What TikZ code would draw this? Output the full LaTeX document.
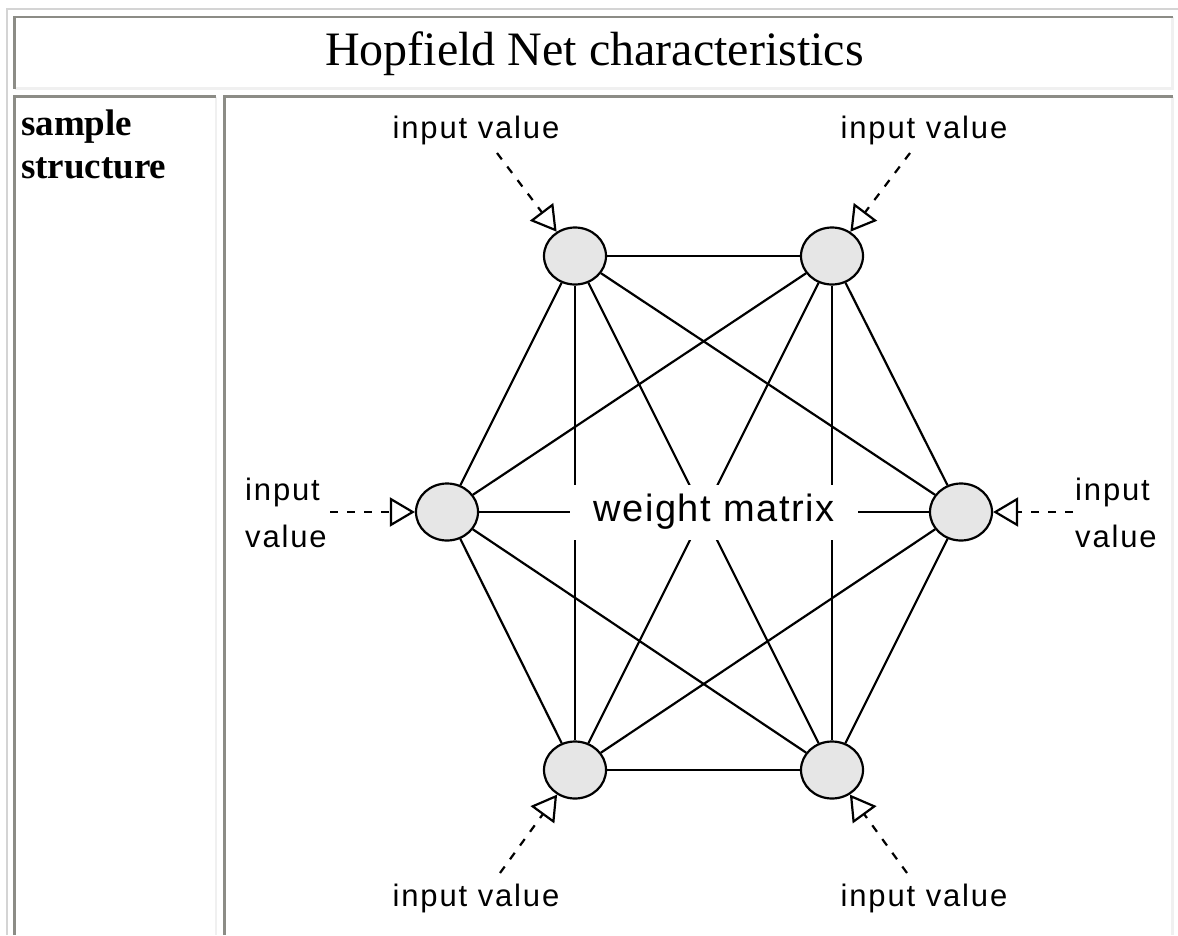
\documentclass[tikz,border=0pt]{standalone}
\usepackage{fontspec}
\setmainfont{Liberation Serif}
\newfontfamily\diagfont[LetterSpace=6]{Liberation Sans}
\newfontfamily\wmfont[LetterSpace=4]{Liberation Sans}
\usetikzlibrary{arrows.meta,shapes.geometric}
\definecolor{bdark}{RGB}{140,140,134}
\definecolor{blight}{RGB}{240,240,240}
\definecolor{bouter}{RGB}{212,212,212}
\definecolor{nodefill}{RGB}{230,230,230}
\begin{document}
\begin{tikzpicture}[x=1pt,y=-1pt,
  neuron/.style={ellipse, draw=black, line width=2.2pt, fill=nodefill,
    minimum width=62pt, minimum height=57pt, inner sep=0pt},
  wire/.style={line width=2.2pt, black},
  inarrow/.style={line width=2.2pt, black, dash pattern=on 8pt off 9pt,
    -{Triangle[open, length=25pt, width=29pt]}},
  lbl/.style={font=\diagfont\fontsize{31}{47}\selectfont, inner sep=0pt},
  darkb/.style={draw=bdark, line width=2.5pt},
  lightb/.style={draw=blight, line width=2.5pt},
  outerb/.style={draw=bouter, line width=2.2pt}
]
\useasboundingbox (0,0) rectangle (1178,935);
\fill[white] (0,0) rectangle (1178,935);

% table borders
\draw[outerb] (7,935) -- (7,9) -- (1178,9);
\draw[lightb] (14.5,88.5) -- (1172.5,88.5) -- (1172.5,17);
\draw[darkb] (14.5,88.5) -- (14.5,17) -- (1172.5,17);
\draw[lightb] (216,935) -- (216,96.5);
\draw[darkb] (14.5,935) -- (14.5,96.5) -- (216,96.5);
\draw[lightb] (1172.5,935) -- (1172.5,96.5);
\draw[darkb] (224.5,935) -- (224.5,96.5) -- (1172.5,96.5);

% texts of the table
\node[anchor=base, inner sep=0pt, font=\fontsize{48}{58}\selectfont] (title) at (594.5,65) {Hopfield Net characteristics};
\node[anchor=base west, inner sep=0pt, font=\bfseries\fontsize{37}{43}\selectfont] (sample) at (21,135) {sample};
\node[anchor=base west, inner sep=0pt, font=\bfseries\fontsize{37}{43}\selectfont] (structure) at (21,178) {structure};

% neurons
\node[neuron] (TL) at (575,256) {};
\node[neuron] (TR) at (832,256) {};
\node[neuron] (L) at (447,512) {};
\node[neuron] (R) at (961,512) {};
\node[neuron] (BL) at (575,770) {};
\node[neuron] (BR) at (832,770) {};

% weights
\draw[wire] (TL) -- (TR);
\draw[wire] (TL) -- (L);
\draw[wire] (TL) -- (R);
\draw[wire] (TL) -- (BL);
\draw[wire] (TL) -- (BR);
\draw[wire] (TR) -- (L);
\draw[wire] (TR) -- (R);
\draw[wire] (TR) -- (BL);
\draw[wire] (TR) -- (BR);
\draw[wire] (L) -- (R);
\draw[wire] (L) -- (BL);
\draw[wire] (L) -- (BR);
\draw[wire] (R) -- (BL);
\draw[wire] (R) -- (BR);
\draw[wire] (BL) -- (BR);

\node[fill=white, minimum width=288pt, minimum height=55pt, inner sep=0pt,
  font=\wmfont\fontsize{38}{46}\selectfont] (wm) at (714,512) {weight matrix};

% inputs
\coordinate (inTL) at (497,153);
\coordinate (inTR) at (910,153);
\coordinate (inL) at (330,512);
\coordinate (inR) at (1073,512);
\coordinate (inBL) at (500,873);
\coordinate (inBR) at (907,873);
\draw[inarrow] (inTL) -- (TL);
\draw[inarrow] (inTR) -- (TR);
\draw[inarrow] (inL) -- (L);
\draw[inarrow] (inR) -- (R);
\draw[inarrow] (inBL) -- (BL);
\draw[inarrow] (inBR) -- (BR);

\node[lbl, anchor=base] (tTL) at (476,138) {input value};
\node[lbl, anchor=base] (tTR) at (924,138) {input value};
\node[lbl, anchor=base] (tBL) at (476,906) {input value};
\node[lbl, anchor=base] (tBR) at (924,906) {input value};
\node[lbl, anchor=base west] (tL1) at (245,500) {input};
\node[lbl, anchor=base west] (tL2) at (245,547) {value};
\node[lbl, anchor=base west] (tR1) at (1075,500) {input};
\node[lbl, anchor=base west] (tR2) at (1075,547) {value};
\end{tikzpicture}
\end{document}
